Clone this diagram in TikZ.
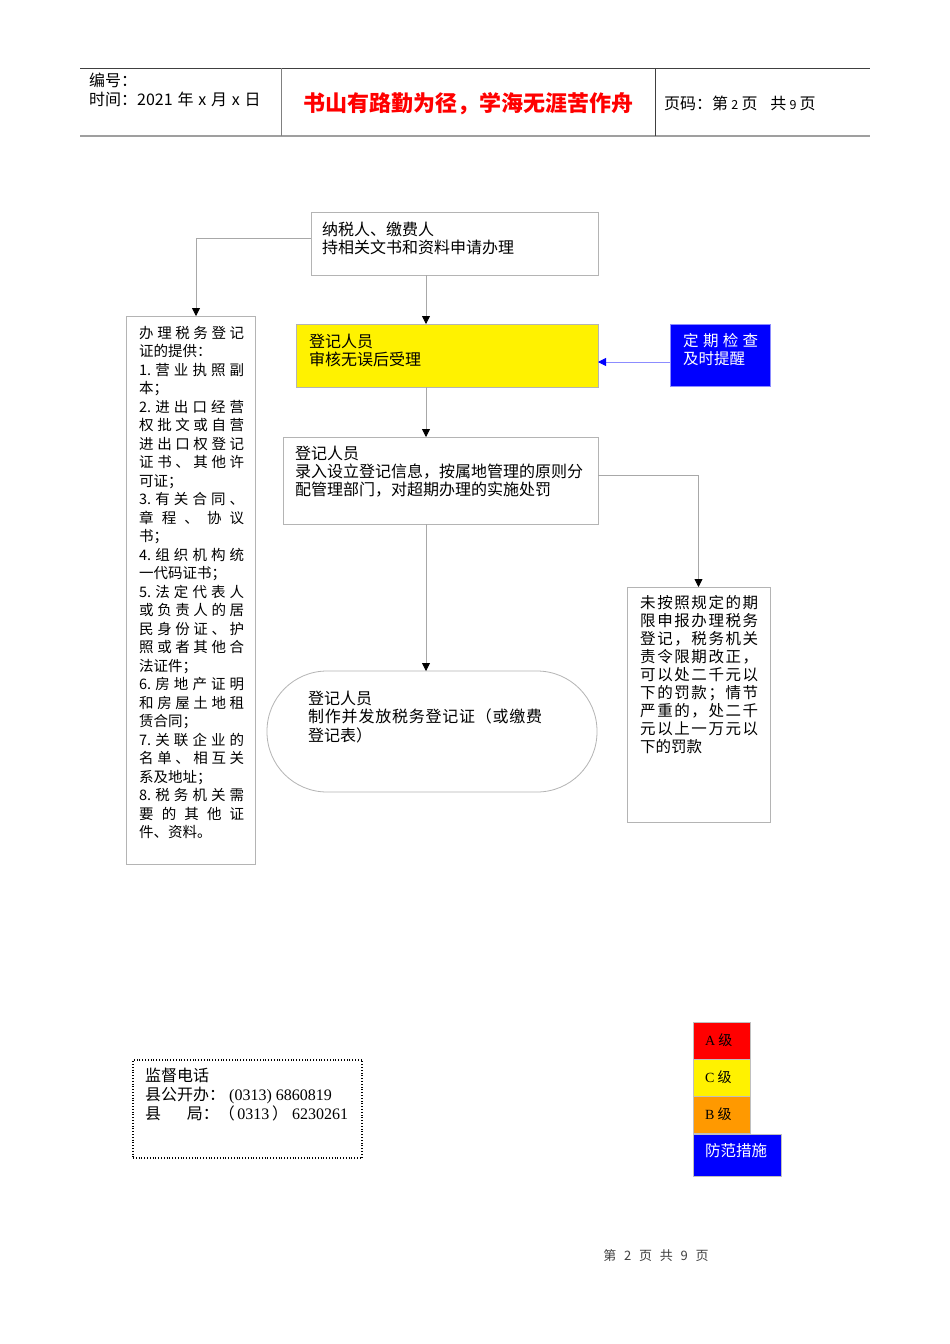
\documentclass[tikz,border=0pt]{standalone}
\usepackage{fontspec}
\setmainfont{Noto Sans CJK SC}
\newfontfamily\tnr{Liberation Serif}
\usetikzlibrary{arrows.meta}
\def\spr#1{\sprA#1\relax}
\def\sprA#1{\ifx#1\relax\else#1\expandafter\sprB\fi}
\def\sprB#1{\ifx#1\relax\else\hfill#1\expandafter\sprB\fi}
\newcommand\lfull[1]{\makebox[105pt][s]{\spr{#1}}}
\newcommand\rfull[1]{\makebox[118pt][s]{\spr{#1}}}
\definecolor{boxgray}{HTML}{B4B4B4}
\definecolor{linegray}{HTML}{A8A8A8}
\definecolor{hdrdark}{HTML}{404040}
\definecolor{lblue}{HTML}{8C8CFF}
\definecolor{orng}{HTML}{FF9900}
\tikzset{
  box/.style={draw=boxgray, line width=0.8pt, anchor=north west, inner sep=0pt, outer sep=0pt},
  txt/.style={anchor=north west, inner sep=0pt, align=left},
  arr/.style={draw=linegray, line width=0.8pt, -{Triangle[width=8pt,length=8pt,color=black]}},
  barr/.style={draw=lblue, line width=0.8pt, -{Triangle[width=8pt,length=8pt,color=blue]}},
  legbox/.style={draw=gray!50, line width=0.5pt, anchor=north west, inner sep=0pt, minimum width=57pt, minimum height=37pt},
}
\begin{document}
\begin{tikzpicture}[x=1pt,y=-1pt]
\useasboundingbox[fill=white] (0,0) rectangle (950,1344);
% header
\draw[line width=1pt, hdrdark] (80,68) -- (870,68);
\draw[line width=1.8pt, gray!75] (80,136) -- (870,136);
\draw[line width=1pt, gray] (281,68) -- (281,136);
\draw[line width=1pt, hdrdark] (655,68) -- (655,136);
\node[txt, font=\fontsize{16}{19}\selectfont] (hno) at (89,72.5) {编号：};
\node[txt, font=\fontsize{16}{19}\selectfont] (hdate) at (89,91.5) {时间：2021\hspace{0.3em}年\hspace{0.3em}x\hspace{0.3em}月\hspace{0.3em}x\hspace{0.3em}日};
\node[inner sep=0pt, font=\fontsize{22}{24}\bfseries\selectfont, text=red] (title) at (468,104) {书山有路勤为径，学海无涯苦作舟};
\node[txt, font=\fontsize{16}{19}\selectfont] (hpage) at (664,95.5) {页码：第\hspace{0.2em}{\fontsize{12.5}{14}\selectfont 2}\hspace{0.2em}页\hspace{0.8em}共\hspace{0.2em}{\fontsize{12.5}{14}\selectfont 9}\hspace{0.2em}页};
% axis coordinate
\coordinate (ax) at (426,0);
% boxes
\node[box, minimum width=287pt, minimum height=63pt] (top) at (311,212) {};
\node[txt, font=\fontsize{16}{18}\selectfont] (toptxt) at (322,221.5) {纳税人、缴费人\\持相关文书和资料申请办理};
\node[box, fill=yellow, minimum width=302pt, minimum height=63pt] (yel) at (296,324) {};
\node[txt, font=\fontsize{16}{18}\selectfont] (yeltxt) at (309,333.5) {登记人员\\审核无误后受理};
\node[box, draw=lblue, fill=blue, minimum width=100pt, minimum height=62pt] (blu) at (670,324) {};
\node[txt, text=white, font=\fontsize{15.5}{18}\selectfont] (blutxt) at (683,333.5) {\makebox[75pt][s]{\spr{定期检查}}\\及时提醒};
\node[box, minimum width=315pt, minimum height=87pt] (reg) at (283,437) {};
\node[txt, font=\fontsize{16}{18}\selectfont] (regtxt) at (295,445.5) {登记人员\\录入设立登记信息，按属地管理的原则分\\配管理部门，对超期办理的实施处罚};
\node[box, rounded corners=60pt, minimum width=330pt, minimum height=121pt] (stad) at (267,671) {};
\node[txt, font=\fontsize{16}{18.5}\selectfont] (stadtxt) at (308,690.5) {登记人员\\\makebox[234pt][s]{\spr{制作并发放税务登记证（或缴费}}\\登记表）};
\node[box, minimum width=129pt, minimum height=548pt] (lbox) at (126,316) {};
\node[txt, font=\fontsize{14.5}{18.5}\selectfont] (ltxt) at (139,326) {%
\lfull{办理税务登记}\\
证的提供：\\
\lfull{{1.}营业执照副}\\
本；\\
\lfull{{2.}进出口经营}\\
\lfull{权批文或自营}\\
\lfull{进出口权登记}\\
\lfull{证书、其他许}\\
可证；\\
\lfull{{3.}有关合同、}\\
\lfull{章程、协议}\\
书；\\
\lfull{{4.}组织机构统}\\
一代码证书；\\
\lfull{{5.}法定代表人}\\
\lfull{或负责人的居}\\
\lfull{民身份证、护}\\
\lfull{照或者其他合}\\
法证件；\\
\lfull{{6.}房地产证明}\\
\lfull{和房屋土地租}\\
赁合同；\\
\lfull{{7.}关联企业的}\\
\lfull{名单、相互关}\\
系及地址；\\
\lfull{{8.}税务机关需}\\
\lfull{要的其他证}\\
件、资料。};
\node[box, minimum width=143pt, minimum height=235pt] (rbox) at (627,587) {};
\node[txt, font=\fontsize{15.5}{18.1}\selectfont] (rtxt) at (640,594.7) {%
\rfull{未按照规定的期}\\
\rfull{限申报办理税务}\\
\rfull{登记，税务机关}\\
\rfull{责令限期改正，}\\
\rfull{可以处二千元以}\\
\rfull{下的罚款；情节}\\
\rfull{严重的，处二千}\\
\rfull{元以上一万元以}\\
下的罚款};
% connectors
\draw[arr] (ax |- top.south) -- (ax |- yel.north);
\draw[arr] (ax |- yel.south) -- (ax |- reg.north);
\draw[arr] (ax |- reg.south) -- (ax |- stad.north);
\draw[arr] ([yshift=5.5pt]top.west) -| ([xshift=5.5pt]lbox.north);
\draw[arr] ([yshift=5.5pt]reg.east) -| (rbox.north);
\draw[barr] ([yshift=-7pt]blu.west) coordinate (bw) -- (bw -| yel.east);
% supervision box
\node[box, draw=black, dotted, line width=1.6pt, minimum width=229pt, minimum height=98pt] (sup) at (133,1060) {};
\node[txt, font=\fontsize{16}{19}\selectfont] (suptxt) at (145,1067.5) {监督电话\\县公开办：{\tnr\ (0313) 6860819}\\县\hspace{1.6em}局：（{\tnr\,0313\,}）{\tnr\ 6230261}};
% legend
\node[legbox, fill=red] (la) at (693,1022) {};
\node[legbox, fill=yellow] (lc) at (693,1059) {};
\node[legbox, fill=orng] (lb) at (693,1096) {};
\node[legbox, fill=blue, minimum width=88pt, minimum height=42pt] (lf) at (693,1134) {};
\node[anchor=west, inner sep=0pt, font=\fontsize{14}{16}\selectfont] (lat) at (705,1040) {{\tnr A} 级};
\node[anchor=west, inner sep=0pt, font=\fontsize{14}{16}\selectfont] (lct) at (705,1077) {{\tnr C} 级};
\node[anchor=west, inner sep=0pt, font=\fontsize{14}{16}\selectfont] (lbt) at (705,1114) {{\tnr B} 级};
\node[anchor=west, inner sep=0pt, text=white, font=\fontsize{15.5}{18}\selectfont] (lft) at (705,1151) {防范措施};
% footer
\node[inner sep=0pt, text=hdrdark, font=\fontsize{13}{15}\selectfont] (foot) at (656,1256) {第\hspace{0.6em}2\hspace{0.6em}页\hspace{0.6em}共\hspace{0.6em}9\hspace{0.6em}页};
\end{tikzpicture}
\end{document}
